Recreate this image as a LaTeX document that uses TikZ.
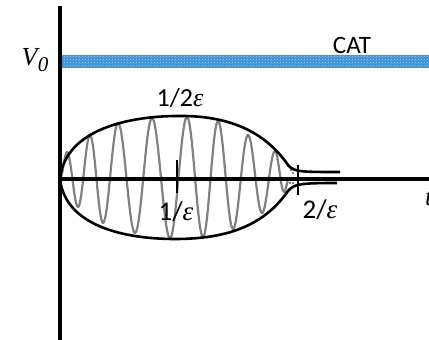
\documentclass[tikz,border=0pt]{standalone}
\usepackage{fontspec}
\setmainfont{Carlito}
\newfontfamily\vfont{Liberation Serif}
\usetikzlibrary{patterns}
\definecolor{bandblue}{RGB}{60,145,215}
\tikzset{
  axis/.style={line width=3.2pt},
  envelope/.style={line width=2.6pt},
  wave/.style={gray, line width=2.2pt, line cap=round},
  tickmark/.style={line width=2.8pt},
  lab/.style={inner sep=0pt}
}

\begin{document}
\begin{tikzpicture}[x=1pt, y=1pt]
  \useasboundingbox (-60,-161) rectangle (369,179);

  % CAT band
  \fill[bandblue] (0,111) rectangle (369,124);
  \fill[pattern=crosshatch dots, pattern color=bandblue!45!white] (0,111) rectangle (369,124);

  % oscillation
  \foreach \xa/\ya/\xb/\yb in {0/0/7/27, 7/27/18/-28, 18/-28/30/44, 30/44/43/-44,
      43/-44/58/56, 58/56/75/-54, 75/-54/92/61, 92/61/110/-59, 110/-59/127/62,
      127/62/143/-58, 143/-58/158/58, 158/58/173/-50, 173/-50/188/44,
      188/44/202/-34, 202/-34/215/28, 215/28/224/-13, 224/-13/229/0}
    \draw[wave] (\xa,\ya) .. controls +({0.36*(\xb-\xa)},0) and +({-0.36*(\xb-\xa)},0) .. (\xb,\yb);

  % envelope
  \draw[envelope] (0,0) .. controls (5,50) and (70,64) .. (125,63)
    .. controls (180,62) and (210,40) .. (228,14)
    .. controls (234,7) and (240,7) .. (280,7);
  \draw[envelope] (0,0) .. controls (5,-45) and (60,-60) .. (115,-60)
    .. controls (170,-60) and (205,-45) .. (228,-12)
    .. controls (234,-5) and (240,-4) .. (277,-4);
  \foreach \p in {(231,9), (233,6), (230,-4), (233,-4)}
    \fill \p circle (0.9pt);

  % axes
  \draw[axis] (0,-161) -- (0,173);
  \draw[axis] (0,0) -- (369,0);

  % ticks
  \draw[tickmark] (117,19) -- (117,-14);
  \draw[tickmark] (238,14) -- (238,-16);

  % labels
  \node[lab] (vzero) at (-25,119) {\vfont\itshape\fontsize{26}{26}\selectfont V\kern0.5pt\raisebox{-6pt}{\fontsize{21}{21}\selectfont 0}};
  \node[lab] (cat) at (292,134) {\fontsize{25}{25}\selectfont CAT};
  \node[lab] (half) at (120,81) {\fontsize{26}{26}\selectfont 1/2{\vfont\itshape ε}};
  \node[lab] (one) at (116,-33) {\fontsize{27}{27}\selectfont 1/{\vfont\itshape ε}};
  \node[lab] (two) at (260,-31) {\fontsize{27}{27}\selectfont 2/{\vfont\itshape ε}};
  \node[lab, anchor=west] (tlab) at (365,-19) {\vfont\itshape\fontsize{26}{26}\selectfont t};
\end{tikzpicture}
\end{document}
